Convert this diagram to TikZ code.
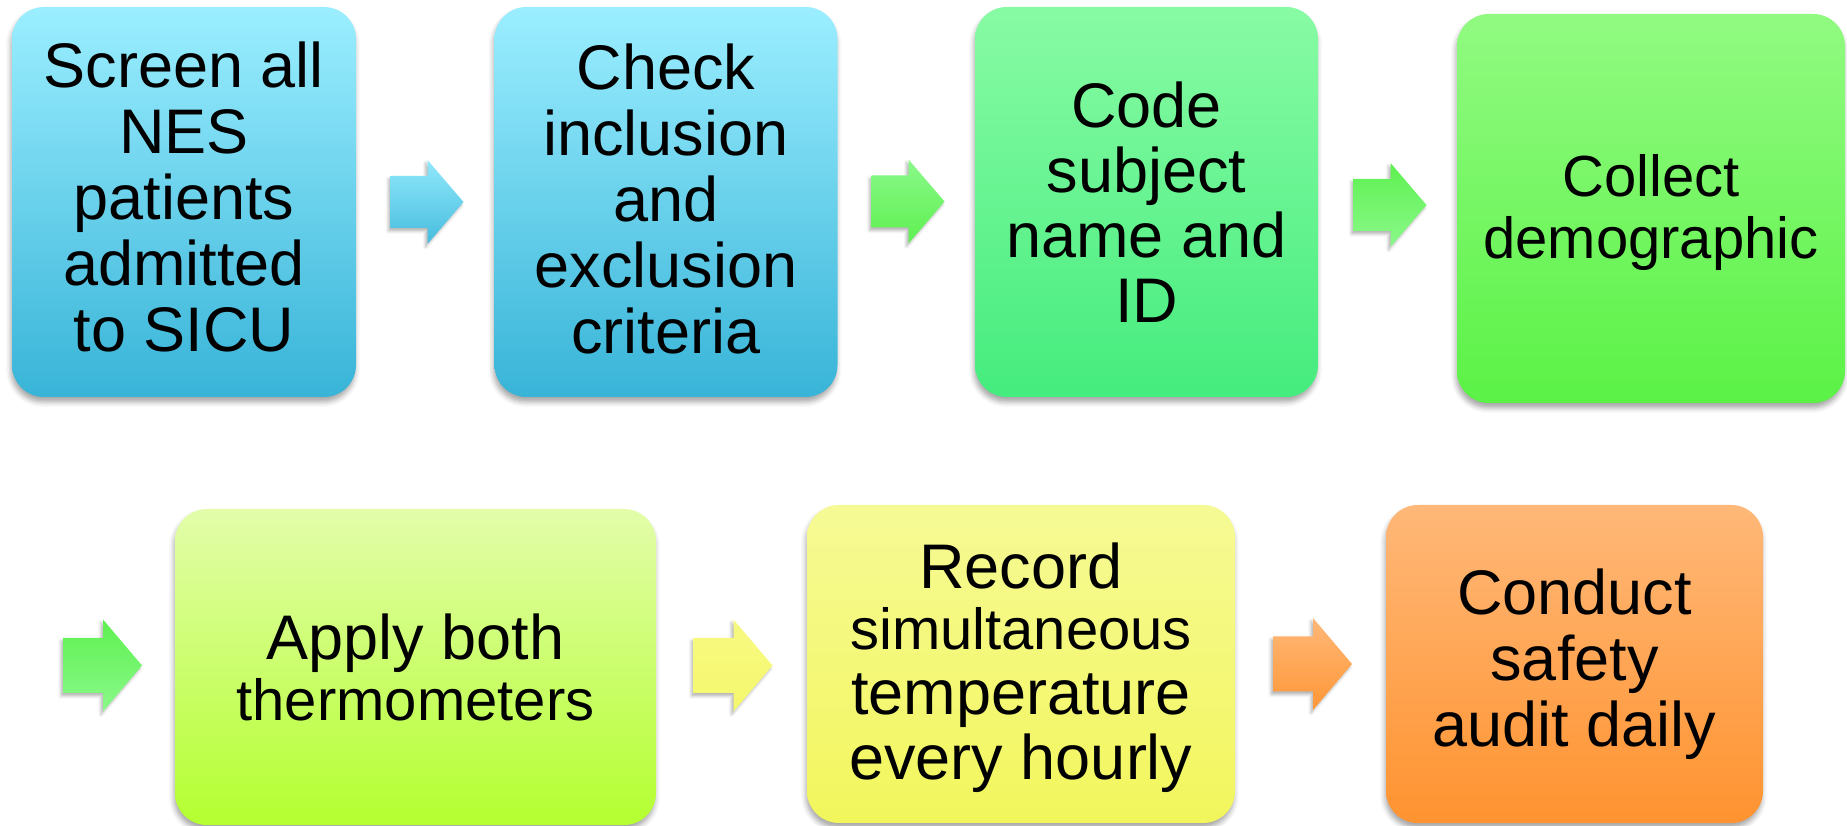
\documentclass[tikz,border=0pt]{standalone}
\usepackage{fontspec}
\setmainfont{Liberation Sans}
\usetikzlibrary{shadows.blur,calc}
\definecolor{cyanT}{HTML}{9BEEFF}
\definecolor{cyanB}{HTML}{38B4D8}
\definecolor{mintT}{HTML}{88FBA4}
\definecolor{mintB}{HTML}{45EC7E}
\definecolor{grnT}{HTML}{91FA81}
\definecolor{grnB}{HTML}{5BF246}
\definecolor{limeT}{HTML}{E3FDAA}
\definecolor{limeB}{HTML}{B4FF30}
\definecolor{yelT}{HTML}{F6FA95}
\definecolor{yelB}{HTML}{F2F65C}
\definecolor{orT}{HTML}{FFB878}
\definecolor{orB}{HTML}{FF9330}
\definecolor{aGrnD}{HTML}{5EF050}
\definecolor{aGrnL}{HTML}{8AF98A}
\definecolor{aYel}{HTML}{F5F86C}
\tikzset{
  stepbox/.style={rounded corners=32pt, inner sep=0pt, align=center, text=black,
    blur shadow={shadow xshift=-1pt, shadow yshift=-5pt, shadow blur radius=5pt, shadow opacity=35}},
  bigtext/.style={font=\fontsize{63}{66}\selectfont},
  midtext/.style={font=\fontsize{58}{62}\selectfont},
  arrowshade/.style={blur shadow={shadow xshift=-2pt, shadow yshift=-3pt, shadow blur radius=3pt, shadow opacity=30}}
}
% block arrow: #1 name, #2 half length, #3 half shaft, #4 half head, #5 head length, #6 options
\newcommand\blockarrow[6]{%
  \path[arrowshade,#6] ($(#1)+(-#2,#3)$) -- ($(#1)+(#2-#5,#3)$) -- ($(#1)+(#2-#5,#4)$)
    -- ($(#1)+(#2,0)$) -- ($(#1)+(#2-#5,-#4)$) -- ($(#1)+(#2-#5,-#3)$) -- ($(#1)+(-#2,-#3)$) -- cycle;}
\newcommand\lowstrut{\rule[-10pt]{0pt}{10pt}}
\begin{document}
\begin{tikzpicture}[x=1pt,y=1pt]
\useasboundingbox (0,0) rectangle (1847,826);
% row 1 boxes
\node[stepbox, bigtext, minimum width=344pt, minimum height=390pt, top color=cyanT, bottom color=cyanB]
  (b1) at (184,624) {Screen all\\NES\\patients\\admitted\\to SICU\lowstrut};
\node[stepbox, bigtext, minimum width=343pt, minimum height=390pt, top color=cyanT, bottom color=cyanB]
  (b2) at (666,624) {Check\\inclusion\\and\\exclusion\\criteria\rule[-7pt]{0pt}{7pt}};
\node[stepbox, font=\fontsize{63}{65}\selectfont, minimum width=343pt, minimum height=390pt, top color=mintT, bottom color=mintB]
  (b3) at (1146.5,624) {Code\\subject\\name and\\ID};
\node[stepbox, midtext, minimum width=388pt, minimum height=389pt, top color=grnT, bottom color=grnB]
  (b4) at (1651,617.5) {\rule{0pt}{50pt}Collect\\demographic};
% row 2 boxes
\node[stepbox, font=\fontsize{63}{61}\selectfont, minimum width=481pt, minimum height=316pt, top color=limeT, bottom color=limeB]
  (b5) at (415.5,159) {Apply both\\{\fontsize{58}{61}\selectfont thermometers}};
\node[stepbox, font=\fontsize{63}{65}\selectfont, minimum width=428pt, minimum height=318pt, top color=yelT, bottom color=yelB]
  (b6) at (1021,162) {\rule{0pt}{53pt}Record\\[-4pt]{\fontsize{58}{65}\selectfont simultaneous}\\temperature\\every hourly};
\node[stepbox, bigtext, minimum width=377pt, minimum height=318pt, top color=orT, bottom color=orB]
  (b7) at (1574.5,162) {Conduct\\safety\\audit daily};
% arrows
\coordinate (a1) at (427,624);
\coordinate (a2) at (908,624.5);
\coordinate (a3) at (1390,621);
\coordinate (a4) at (102.5,160.5);
\coordinate (a5) at (733,160.5);
\coordinate (a6) at (1312.5,162);
\blockarrow{a1}{36.5}{26}{42}{36}{top color=cyanT!90!cyanB, bottom color=cyanB!85!cyanT}
\blockarrow{a2}{36.5}{26}{42}{36}{top color=aGrnL, bottom color=aGrnD}
\blockarrow{a3}{36.5}{26}{42}{36}{top color=aGrnD, bottom color=aGrnL}
\blockarrow{a4}{39.5}{27.5}{46}{39}{top color=aGrnD, bottom color=aGrnL}
\blockarrow{a5}{39.5}{27.5}{46}{39}{top color=aYel!85!white, bottom color=aYel}
\blockarrow{a6}{39.5}{27.5}{46}{39}{top color=orT, bottom color=orB!90!orT}
\end{tikzpicture}
\end{document}
